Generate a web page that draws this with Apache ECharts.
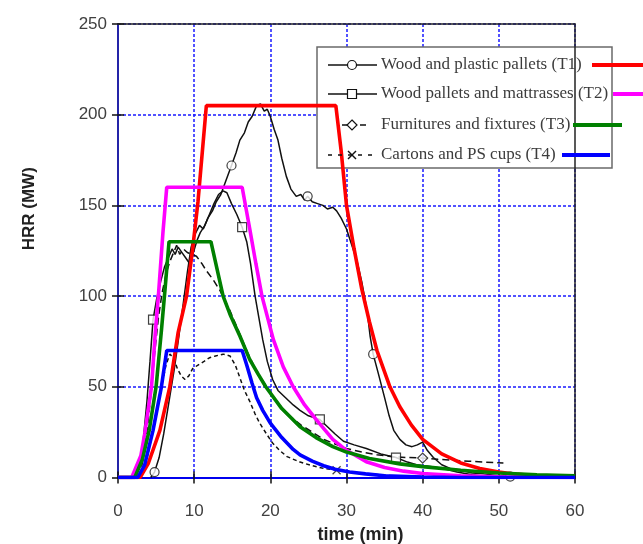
<!DOCTYPE html>
<html><head><meta charset="utf-8">
<script src="https://cdn.jsdelivr.net/npm/echarts@6/dist/echarts.min.js"></script>
<style>html,body{margin:0;padding:0;background:#fff}#c{width:643px;height:544px}</style>
</head><body><div id="c"></div>
<script>
// ---- data (time in min, HRR in MW) ----
const xMin = 0, xMax = 60, xStep = 10;
const yMin = 0, yMax = 250, yStep = 50;
const xTitle = 'time (min)';
const yTitle = 'HRR (MW)';
const legendNames = ['Wood and plastic pallets (T1)', 'Wood pallets and mattrasses (T2)', 'Furnitures and fixtures (T3)', 'Cartons and PS cups (T4)'];

// design curves (coloured)
const designT1 = [[0,0],[2.9,0],[4,8],[5.5,26],[6.8,50],[7.9,80],[9,100],[9.8,126],[10.5,152],[11.6,205],[28.6,205],[29.3,180],[30,150],[31,126],[32,104],[33,86],[34,70],[35.7,50],[37,39],[38.5,29],[40,21],[42.5,13],[45,8],[47.5,5],[50,3],[52.5,1.7],[55,1],[57.5,0.6],[60,0.3]];
const designT2 = [[0,0],[1.8,0],[3,12],[3.5,24],[4.4,50],[4.9,80],[5.3,100],[5.9,135],[6.4,160],[16.3,160],[17.3,137],[18.1,118],[18.9,100],[20.4,76],[21.7,61],[23,50],[24.5,40],[26,32],[28.2,21],[30,15],[32.7,8.5],[35,5.5],[37.5,3.5],[40,2.2],[45,0.9],[50,0.4],[60,0]];
const designT3 = [[0,0],[2.2,0],[3.2,10],[4.1,26],[5,50],[5.7,81],[6.2,105],[6.7,130],[12.2,130],[13,115],[13.8,100],[14.8,89],[16,78],[17.3,65],[18.4,57],[19.4,50],[21.5,38],[23.9,28],[26,22],[28.2,17],[30,14],[33,10.5],[37,7.5],[40,6],[45,4],[50,2.5],[55,1.5],[60,0.9]];
const designT4 = [[0,0],[2.6,0],[3.5,7],[4.6,26],[5.7,50],[6.4,70],[16.3,70],[16.9,62],[17.6,52],[18.2,44],[19,37],[20,30],[21.5,22],[23,15.5],[23.9,12.5],[25.5,9],[27,6.5],[28.5,4.5],[30.4,3],[32.5,2],[35,1],[40,0.3],[45,0],[60,0]];

// measured curves (black)
const testT1 = [[4.3,0],[4.8,3],[5.4,11],[6,24],[6.7,42],[7.4,60],[8,78],[8.6,97],[9.1,113],[9.6,127],[10.1,134],[10.7,139],[11.2,137],[11.8,143],[12.4,147],[12.9,152],[13.5,156],[14.2,164],[14.9,172],[15.5,179],[16,186],[16.6,190],[17.1,196],[17.6,199],[18.2,205],[18.7,206],[19.2,202],[19.6,203],[20,199],[20.5,192],[21,186],[21.5,176],[22.1,166],[22.7,159],[23.4,155],[24,156],[24.5,153],[24.9,155],[25.5,152],[26.2,151],[26.9,150],[27.5,148],[28.2,149],[28.7,147],[29.3,143],[30,137],[30.7,128],[31.4,119],[32,108],[32.7,92],[33.1,78],[33.5,68],[34.2,57],[35,44],[35.6,34],[36.2,26],[37,21],[37.8,18],[38.6,17],[39.3,18],[40,19.5],[40.6,15],[41.4,11],[42.5,7],[43.6,5],[45,4],[46.5,2.5],[48,2],[50,1],[51.5,0.5]];
const testT2 = [[2.3,0],[2.8,6],[3.3,20],[3.8,42],[4.2,64],[4.6,87],[5.1,99],[5.6,108],[6.1,116],[6.6,121],[7.1,126],[7.5,123],[7.9,127],[8.4,124],[8.9,121],[9.4,118],[9.9,124],[10.4,131],[10.8,135],[11.4,139],[12,145],[12.6,151],[13.2,156],[13.8,158],[14.3,157],[14.9,151],[15.6,145],[16.3,138],[16.9,130],[17.4,118],[18,100],[18.5,88],[19,76],[19.6,64],[20.3,54],[21,48],[22,44],[23,40],[23.9,37],[25,34],[26.5,32],[27.5,28],[28.5,24],[29.6,20],[31,18],[32.6,16],[34.5,13],[36.5,11],[38,8.5],[39.2,7],[41,6],[42.7,5],[44.5,3],[46.5,1.5],[48.5,0.5]];
const testT3 = [[2.8,0],[3.3,10],[3.8,25],[4.3,45],[4.8,68],[5.3,88],[5.8,102],[6.3,112],[6.8,119],[7.3,124],[7.7,128],[8.1,123],[8.6,126],[9.1,124],[9.7,123],[10.3,122],[11,118],[11.6,114],[12.5,109],[13.4,103],[14.1,97],[14.7,92],[15.4,85],[16.2,77],[17,69],[17.8,62],[18.6,56],[19.5,50],[20.5,44],[21.6,38],[22.8,33],[24,29],[25.5,25],[27,21],[28.5,18.5],[30,16],[32,14],[34,12.5],[36,11.5],[38,11],[40,10.7],[42,10],[44,9.5],[46,9],[48,8.5],[50.6,8]];
const testT4 = [[2.8,0],[3.4,5],[4,14],[4.6,26],[5.2,38],[5.8,52],[6.3,62],[6.8,68],[7.3,66],[7.8,60],[8.3,56],[8.8,54],[9.3,56],[9.8,60],[10.5,62],[11.3,64],[12,66],[12.8,67],[13.8,68],[14.7,67],[15.4,62],[16,55],[16.6,48],[17.3,42],[18,35],[18.6,30],[19.5,24],[20.3,19],[21.2,15],[22.2,11.5],[23.9,8.5],[25.5,6.5],[27,5],[28.7,4],[30.5,3],[33,2],[36,1],[40,0.5],[45,0]];

// sparse markers on measured curves
const marksT1 = [[4.8,3],[14.9,172],[24.9,155],[33.5,68],[51.5,0.5]];
const marksT2 = [[4.6,87],[16.3,138],[26.5,32],[36.5,11]];
const marksT3 = [[40,10.7]];
const marksT4 = [[28.7,4]];

// ---- styles ----
const designColors = ['#ff0000', '#ff00ff', '#008000', '#0000ff'];
const ink = '#111';
const gridBlue = '#1a1aff';

const chart = echarts.init(document.getElementById('c'), null, {renderer: 'canvas'});

function blackLine(name, data, dash) {
  return {name, type: 'line', data, symbol: 'none', showSymbol: false, z: 2,
    lineStyle: {color: ink, width: 1.5, type: dash}, animation: false};
}
function marks(name, data, symbol, size) {
  return {name, type: 'scatter', data, symbol, symbolSize: size, z: 3,
    itemStyle: {color: symbol.indexOf('path') === 0 ? 'rgba(0,0,0,0)' : '#fff', borderColor: ink, borderWidth: 1.2},
    animation: false};
}
function design(name, data, color) {
  return {name, type: 'line', data, symbol: 'none', showSymbol: false, z: 4,
    lineStyle: {color, width: 3.6}, animation: false};
}

const axisFont = {fontSize: 17, color: '#404040', fontFamily: 'Liberation Sans, Arial, sans-serif'};
const split = {show: true, lineStyle: {color: gridBlue, width: 1.5, type: [3, 2]}};
const tickStyle = {color: ink, width: 1.5};

// legend built as graphics
const rowY = [65, 94, 125, 155];
const colourLine = [[592, 643], [613, 643], [573, 622], [562, 610]];
const g = [];
g.push({type: 'rect', z: 1, shape: {x: 317, y: 47, width: 295, height: 121}, style: {fill: '#fff', stroke: '#6a6a6a', lineWidth: 1.5}});
legendNames.forEach((n, i) => {
  g.push({type: 'text', z: 5, x: 381, y: rowY[i], style: {text: n, fontSize: 17, fontFamily: 'Liberation Serif, Times New Roman, serif', fill: '#3c3c3c', verticalAlign: 'middle', align: 'left'}});
  g.push({type: 'line', z: 5, shape: {x1: colourLine[i][0], y1: rowY[i], x2: colourLine[i][1], y2: rowY[i]}, style: {stroke: designColors[i], lineWidth: 4}});
});
// samples
g.push({type: 'line', z: 5, shape: {x1: 328, y1: rowY[0], x2: 377, y2: rowY[0]}, style: {stroke: ink, lineWidth: 1.3}});
g.push({type: 'circle', z: 6, shape: {cx: 352, cy: rowY[0], r: 4.5}, style: {fill: '#fff', stroke: ink, lineWidth: 1.2}});
g.push({type: 'line', z: 5, shape: {x1: 328, y1: rowY[1], x2: 377, y2: rowY[1]}, style: {stroke: ink, lineWidth: 1.3}});
g.push({type: 'rect', z: 6, shape: {x: 347.5, y: rowY[1] - 4.5, width: 9, height: 9}, style: {fill: '#fff', stroke: ink, lineWidth: 1.2}});
g.push({type: 'line', z: 5, shape: {x1: 342, y1: rowY[2], x2: 374, y2: rowY[2]}, style: {stroke: ink, lineWidth: 1.3, lineDash: [6, 12]}});
g.push({type: 'polygon', z: 6, shape: {points: [[352, rowY[2] - 5], [357, rowY[2]], [352, rowY[2] + 5], [347, rowY[2]]]}, style: {fill: '#fff', stroke: ink, lineWidth: 1.2}});
g.push({type: 'line', z: 5, shape: {x1: 328, y1: rowY[3], x2: 378, y2: rowY[3]}, style: {stroke: ink, lineWidth: 1.3, lineDash: [4, 6]}});
g.push({type: 'polyline', z: 6, shape: {points: [[348, rowY[3] - 4], [356, rowY[3] + 4]]}, style: {stroke: ink, lineWidth: 1.4}});
g.push({type: 'polyline', z: 6, shape: {points: [[356, rowY[3] - 4], [348, rowY[3] + 4]]}, style: {stroke: ink, lineWidth: 1.4}});

const option = {
  backgroundColor: '#fff',
  animation: false,
  grid: {left: 118, top: 24, width: 457, height: 453.5, containLabel: false, outerBoundsMode: 'none'},
  xAxis: [
    {type: 'value', min: xMin, max: xMax, interval: xStep, position: 'bottom',
     axisLine: {show: true, onZero: false, lineStyle: {color: '#0000ee', width: 2}},
     axisTick: {show: true, inside: false, length: 6, lineStyle: tickStyle},
     axisLabel: Object.assign({margin: 25}, axisFont), splitLine: split,
     name: xTitle, nameLocation: 'middle', nameGap: 49,
     nameTextStyle: {fontSize: 18, fontWeight: 'bold', color: '#222', fontFamily: 'Liberation Sans, Arial, sans-serif', padding: [0, 0, 0, 28]}},
    {type: 'value', min: xMin, max: xMax, interval: xStep, position: 'bottom',
     axisLine: {show: false, onZero: false}, axisTick: {show: true, inside: true, length: 6, lineStyle: tickStyle},
     axisLabel: {show: false}, splitLine: {show: false}},
    {type: 'value', min: xMin, max: xMax, interval: xStep, position: 'top', z: 3,
     axisLine: {show: true, onZero: false, lineStyle: {color: '#222', width: 1.5}}, axisTick: {show: false},
     axisLabel: {show: false}, splitLine: {show: false}}
  ],
  yAxis: [
    {type: 'value', min: yMin, max: yMax, interval: yStep, position: 'left',
     axisLine: {show: true, onZero: false, lineStyle: {color: '#2424a8', width: 2}},
     axisTick: {show: true, inside: false, length: 6, lineStyle: tickStyle},
     axisLabel: Object.assign({margin: 11}, axisFont), splitLine: split,
     name: yTitle, nameLocation: 'middle', nameGap: 80,
     nameTextStyle: {fontSize: 17, fontWeight: 'bold', color: '#222', fontFamily: 'Liberation Sans, Arial, sans-serif', padding: [0, 0, 0, 84]}},
    {type: 'value', min: yMin, max: yMax, interval: yStep, position: 'left',
     axisLine: {show: false, onZero: false}, axisTick: {show: true, inside: true, length: 6, lineStyle: tickStyle},
     axisLabel: {show: false}, splitLine: {show: false}},
    {type: 'value', min: yMin, max: yMax, interval: yStep, position: 'right', z: 3,
     axisLine: {show: true, onZero: false, lineStyle: {color: '#222', width: 1.5}}, axisTick: {show: false},
     axisLabel: {show: false}, splitLine: {show: false}}
  ],
  graphic: {elements: g},
  series: [
    blackLine('T1 test', testT1, 'solid'),
    blackLine('T2 test', testT2, 'solid'),
    blackLine('T3 test', testT3, [7, 4]),
    blackLine('T4 test', testT4, [4, 3]),
    marks('T1 marks', marksT1, 'circle', 9),
    marks('T2 marks', marksT2, 'rect', 9),
    marks('T3 marks', marksT3, 'diamond', 10),
    marks('T4 marks', marksT4, 'path://M0,0L10,10M10,0L0,10', 8),
    design('T1 design', designT1, designColors[0]),
    design('T2 design', designT2, designColors[1]),
    design('T3 design', designT3, designColors[2]),
    design('T4 design', designT4, designColors[3])
  ]
};
chart.setOption(option);
</script>
</body></html>
